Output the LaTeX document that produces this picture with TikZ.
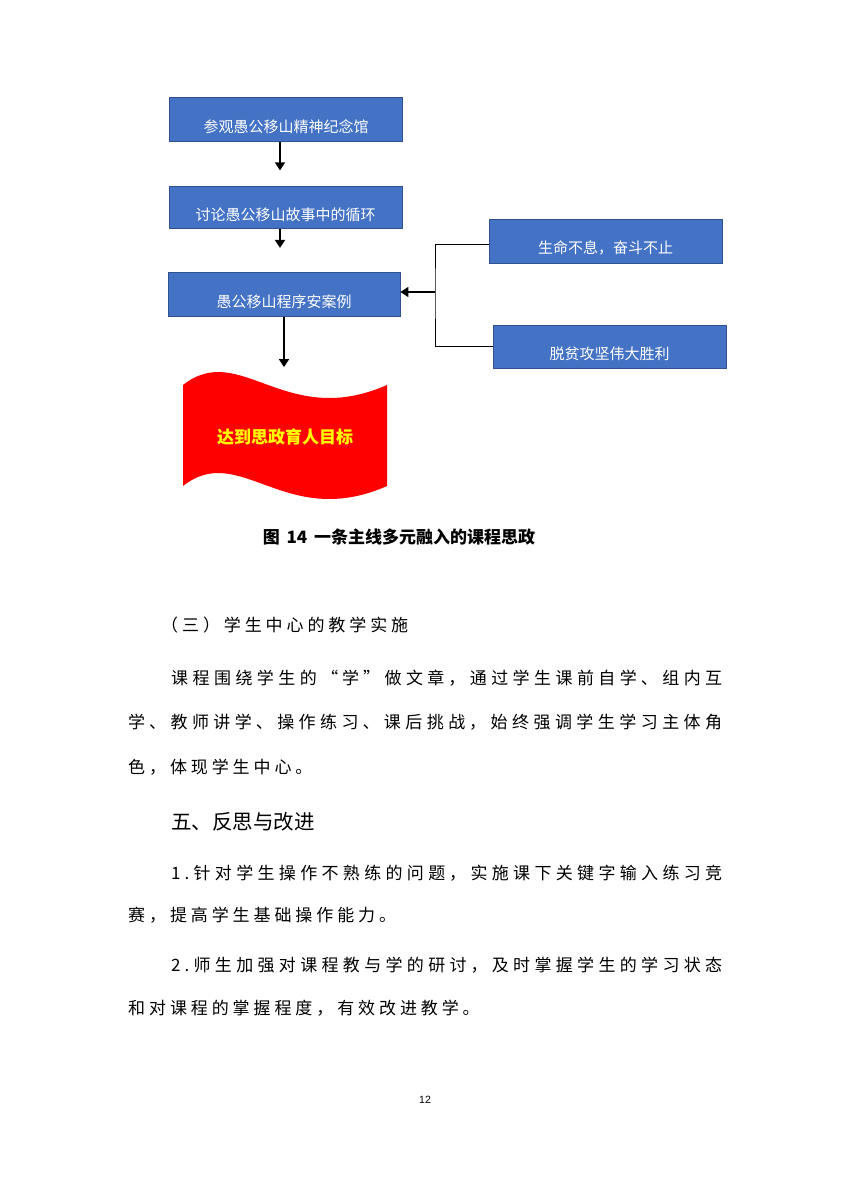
\documentclass[tikz,border=0pt]{standalone}
\usepackage{fontspec}
\usetikzlibrary{arrows.meta}
\setmainfont{Liberation Sans}
\newfontfamily\cjk{Noto Sans CJK SC}
\newfontfamily\cjkbody[LetterSpace=23]{Noto Sans CJK SC}
\definecolor{boxblue}{HTML}{4472C4}
\definecolor{boxedge}{HTML}{2F528F}
\definecolor{flagred}{HTML}{FF0000}
\definecolor{goldtext}{HTML}{FFFF00}
\XeTeXlinebreaklocale "zh"
\XeTeXlinebreakskip=0pt plus 4pt

% one justified line of body text: x, y, width, text
\newcommand\bodyline[4]{%
  \node[bodytext, text width=#3, align=justify] at (#1,#2)
    {\parfillskip=0pt\tolerance=9999 #4\par};}

\begin{document}
\begin{tikzpicture}[x=1pt, y=-1pt,
    blockbox/.style={draw=boxedge, line width=0.8pt, fill=boxblue, text=white,
      font=\cjk\fontsize{15}{18}\selectfont, minimum width=233pt,
      minimum height=44pt, inner sep=0pt, text height=27pt, text depth=1.2pt},
    flow/.style={line width=1.5pt, -{Triangle[length=8pt, width=10pt]}},
    branch/.style={line width=0.8pt},
    bodytext/.style={anchor=west, inner sep=0pt,
      font=\cjkbody\fontsize{17}{20}\selectfont}]
  \useasboundingbox (0,0) rectangle (849,1202);
  \fill[white] (0,0) rectangle (849,1202);

  % flow chart
  \node[blockbox] (visit) at (286,119.5) {参观愚公移山精神纪念馆};
  \node[blockbox, minimum height=42pt] (discuss) at (285.5,207.5) {讨论愚公移山故事中的循环};
  \node[blockbox, minimum width=232pt] (case) at (284,294.7) {愚公移山程序安案例};
  \node[blockbox] (spirit) at (605.5,241) {生命不息，奋斗不止};
  \node[blockbox, minimum height=43pt] (poverty) at (609.7,346.7) {脱贫攻坚伟大胜利};

  \draw[flow] ([xshift=-6pt]visit.south) -- ++(0,28.5);
  \draw[flow] ([xshift=-5.5pt]discuss.south) -- ++(0,19);
  \draw[flow] (case.south) -- ++(0,50);

  \coordinate (fork) at (435,292);
  \draw[branch] ([yshift=-3pt]spirit.west) -| (fork) |- (poverty.west);
  \draw[flow] (fork) -- (fork -| case.east);

  % flag
  \fill[flagred] (183,385) .. controls (240,340) and (285,430) .. (387,385)
    -- (387,486) .. controls (285,531) and (240,441) .. (183,486) -- cycle;
  \node[text=goldtext, font=\cjk\bfseries\fontsize{17}{20}\selectfont] (goal)
    at (285,437) {达到思政育人目标};

  \node[font=\cjk\bfseries\fontsize{17}{20}\selectfont] (caption)
    at (399,537) {图\hspace{0.4em}14\hspace{0.4em}一条主线多元融入的课程思政};

  % body text
  \node[bodytext] (sec3) at (161,625) {（三）学生中心的教学实施};
  \bodyline{171}{678}{551pt}{课程围绕学生的“学”做文章，通过学生课前自学、组内互}
  \bodyline{128}{722}{594pt}{学、教师讲学、操作练习、课后挑战，始终强调学生学习主体角}
  \node[bodytext] (p1end) at (128,767) {色，体现学生中心。};

  \node[bodytext, font=\cjk\fontsize{20.5}{24}\selectfont] (sec5) at (171,822) {五、反思与改进};
  \bodyline{171}{873}{551pt}{1.针对学生操作不熟练的问题，实施课下关键字输入练习竞}
  \node[bodytext] (p2end) at (128,915) {赛，提高学生基础操作能力。};
  \bodyline{171}{965}{551pt}{2.师生加强对课程教与学的研讨，及时掌握学生的学习状态}
  \node[bodytext] (p3end) at (128,1008) {和对课程的掌握程度，有效改进教学。};

  \node[font=\fontsize{10.5}{12}\selectfont] (pagenum) at (425,1100) {12};
\end{tikzpicture}
\end{document}
